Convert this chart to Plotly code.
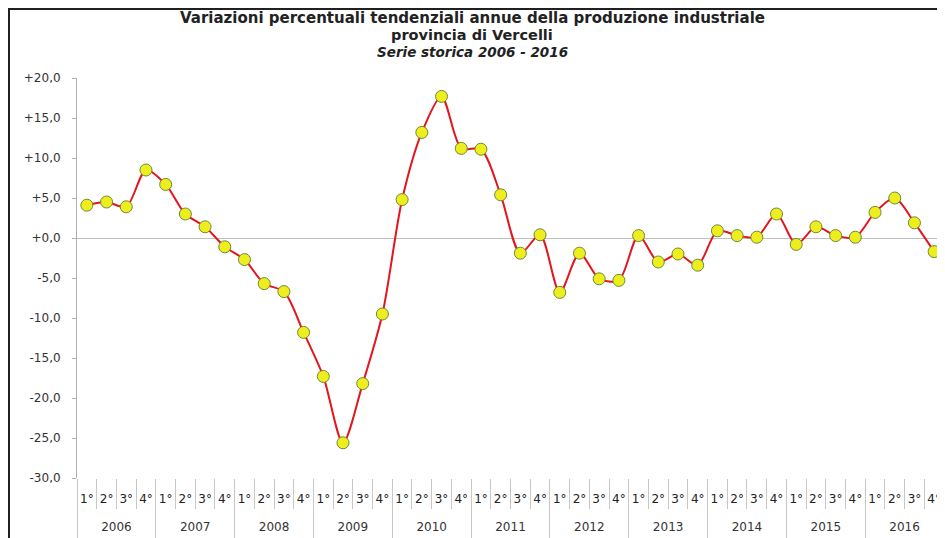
"""Produzione industriale Vercelli - variazioni tendenziali (plotly)"""

import plotly.graph_objects as go

# dati
anni = ["2006", "2007", "2008", "2009", "2010", "2011",
        "2012", "2013", "2014", "2015", "2016"]
trimestri = ["1°", "2°", "3°", "4°"]
variazioni = [
    4.1, 4.5, 3.9, 8.5,        # 2006
    6.7, 3.0, 1.4, -1.1,       # 2007
    -2.7, -5.7, -6.7, -11.8,   # 2008
    -17.3, -25.6, -18.2, -9.5,  # 2009
    4.8, 13.2, 17.7, 11.2,     # 2010
    11.1, 5.4, -1.9, 0.4,      # 2011
    -6.8, -1.9, -5.1, -5.3,    # 2012
    0.3, -3.0, -2.0, -3.4,     # 2013
    0.9, 0.3, 0.1, 3.0,        # 2014
    -0.8, 1.4, 0.3, 0.1,       # 2015
    3.2, 5.0, 1.9, -1.7,       # 2016
]
y_tick_vals = [20, 15, 10, 5, 0, -5, -10, -15, -20, -25, -30]
y_tick_text = ["+20,0", "+15,0", "+10,0", "+5,0", "+0,0", "-5,0",
               "-10,0", "-15,0", "-20,0", "-25,0", "-30,0"]
titolo = [
    "Variazioni percentuali tendenziali annue della produzione industriale",
    "provincia di Vercelli",
    "Serie storica 2006 - 2016",
]

# posizioni sull'asse: un trimestre per unita'
nq = len(trimestri)
pos = list(range(len(variazioni)))
trim_lab = [trimestri[i % nq] for i in pos]
anni_pos = [i * nq + (nq - 1) / 2 for i in range(len(anni))]

# la pagina html ha un margine di 8px: figura 937x530
W, H = 937, 530
L, T, B, R = 69, 70, 60, 1
PW, PH = W - L - R, H - T - B


def px(x):
    return (x - L) / PW


def py(y):
    return (T + PH - y) / PH


fig = go.Figure()
fig.add_trace(
    go.Scatter(
        x=pos,
        y=variazioni,
        mode="lines+markers",
        line=dict(color="#e3151d", width=2, shape="spline", smoothing=0.8),
        marker=dict(size=12, color="#eeee1e",
                    line=dict(color="#6f8a34", width=1)),
        showlegend=False,
        cliponaxis=False,
    )
)
# traccia vuota per far disegnare l'asse degli anni
fig.add_trace(
    go.Scatter(x=anni_pos, y=[None] * len(anni_pos), xaxis="x2",
               mode="markers", showlegend=False, hoverinfo="skip")
)

# titolo (tre righe)
fig.add_annotation(text="<b>" + titolo[0] + "</b>", y=py(10),
                   font=dict(size=15))
fig.add_annotation(text="<b>" + titolo[1] + "</b>", y=py(26.5),
                   font=dict(size=14.5))
fig.add_annotation(text="<b><i>" + titolo[2] + "</i></b>", y=py(44),
                   font=dict(size=13.5))
fig.update_annotations(xref="paper", yref="paper", x=px(464), showarrow=False,
                       xanchor="center", yanchor="middle")

# cornice
fig.add_shape(type="line", xref="paper", yref="paper",
              x0=px(0), x1=px(W + 5), y0=py(1), y1=py(1),
              line=dict(color="#202020", width=2))
fig.add_shape(type="line", xref="paper", yref="paper",
              x0=px(1), x1=px(1), y0=py(0), y1=py(H + 5),
              line=dict(color="#202020", width=2))

rng = [-0.5, len(variazioni) - 0.5]

fig.update_layout(
    width=W, height=H,
    margin=dict(l=L, r=R, t=T, b=B, autoexpand=False),
    paper_bgcolor="white",
    plot_bgcolor="white",
    font=dict(family="DejaVu Sans", color="#222222", size=11),
    # trimestri
    xaxis=dict(
        range=rng,
        automargin=False,
        showgrid=False,
        showline=False,
        zeroline=False,
        tickmode="array",
        tickvals=pos,
        ticktext=trim_lab,
        ticks="",
        tickangle=0,
        ticklabelstandoff=12,
        tickfont=dict(size=12),
        minor=dict(tick0=-0.5, dtick=1, ticks="outside", ticklen=30,
                   tickcolor="#c8c8c8", showgrid=False),
    ),
    # anni
    xaxis2=dict(
        range=rng,
        overlaying="x",
        anchor="y",
        side="bottom",
        automargin=False,
        showgrid=False,
        showline=False,
        zeroline=False,
        tickmode="array",
        tickvals=anni_pos,
        ticktext=anni,
        ticks="",
        tickangle=0,
        ticklabelstandoff=40,
        tickfont=dict(size=12, color="#333333"),
        minor=dict(tick0=-0.5, dtick=nq, ticks="outside", ticklen=62,
                   tickcolor="#c8c8c8", showgrid=False),
    ),
    yaxis=dict(
        range=[-30, 20],
        automargin=False,
        tickvals=y_tick_vals,
        ticktext=y_tick_text,
        showgrid=False,
        showline=True,
        linecolor="#b0b0b0",
        ticks="outside",
        ticklen=4,
        tickcolor="#b0b0b0",
        ticklabelstandoff=9,
        zeroline=True,
        zerolinecolor="#c0c0c0",
        zerolinewidth=1,
        tickfont=dict(size=12, color="#333333"),
    ),
)

fig.write_html("out.html")
